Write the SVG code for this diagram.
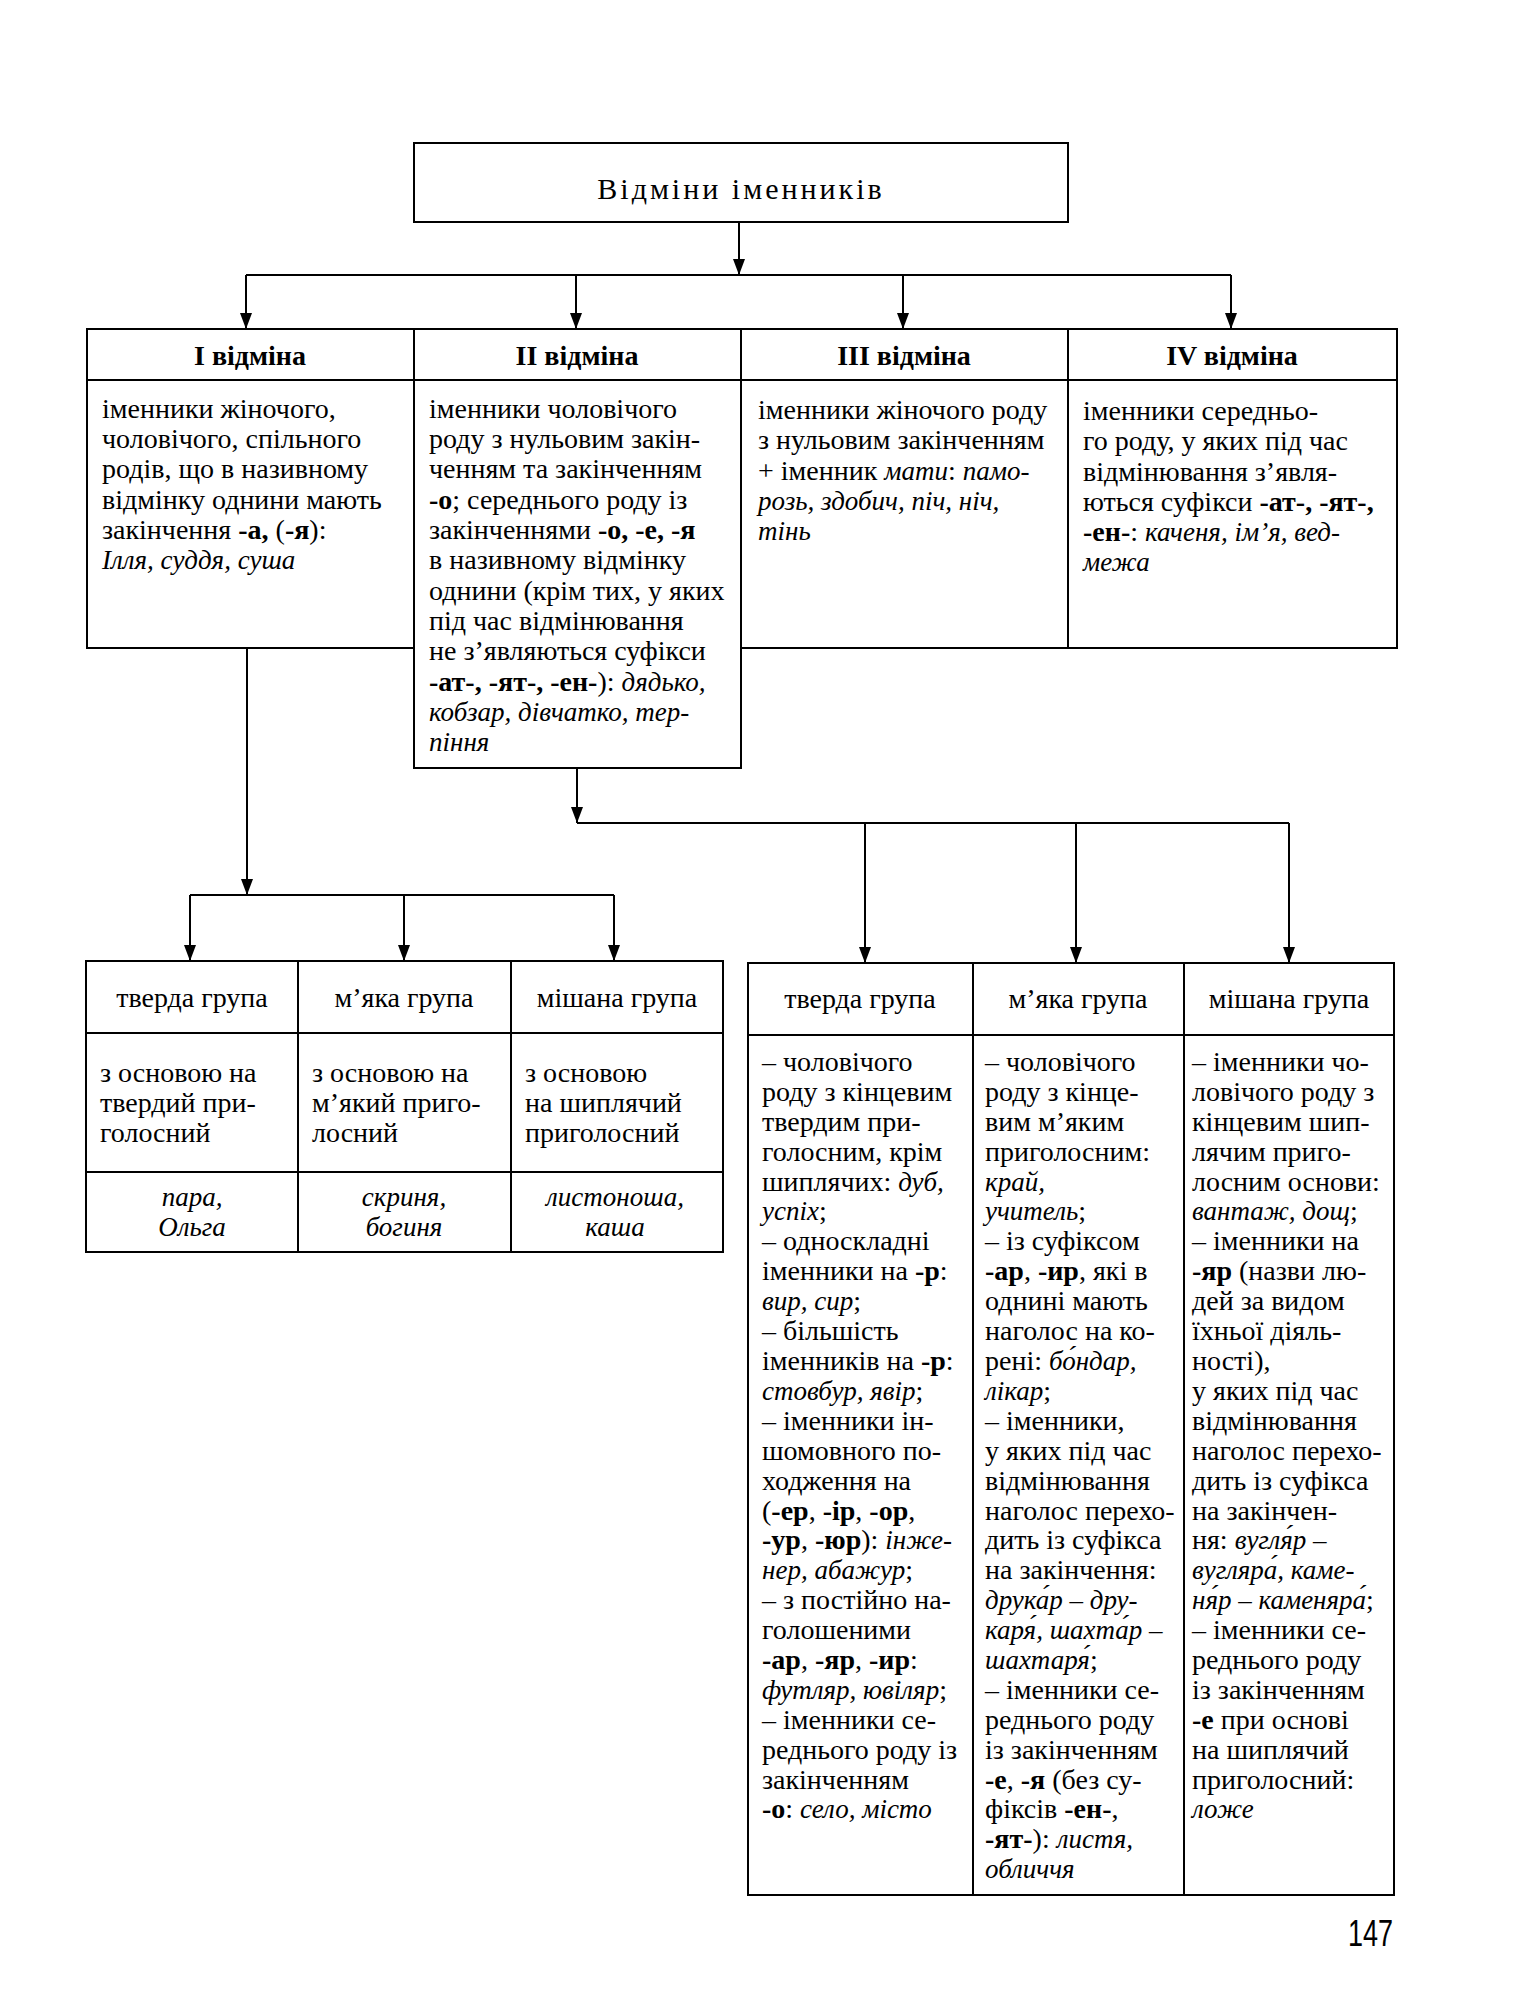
<svg xmlns="http://www.w3.org/2000/svg" width="1525" height="2000" viewBox="0 0 1525 2000">
<defs>
<style>
.bg{fill:#fff}
.box{fill:none;stroke:#000;stroke-width:2}
.ln{stroke:#000;stroke-width:2}
.con{stroke:#000;stroke-width:2;fill:none}
text{font-family:"Liberation Serif","DejaVu Serif",serif;font-size:28px;fill:#000}
.b{font-weight:bold}
.i{font-style:italic;font-size:27px}
.c{text-anchor:middle}
.title{font-size:30px;letter-spacing:3px}
.pg{font-family:"Liberation Sans","DejaVu Sans",sans-serif;font-size:36px}
</style>
<marker id="ar" markerUnits="userSpaceOnUse" markerWidth="16" markerHeight="12" refX="16" refY="6" orient="auto">
<path d="M0,0 L16,6 L0,12 z" fill="#000"/>
</marker>
</defs>
<rect class="bg" x="0" y="0" width="1525" height="2000"/>

<g id="connectors">
<line class="con" x1="739" y1="222" x2="739" y2="275" marker-end="url(#ar)"/>
<line class="con" x1="246" y1="275" x2="1231" y2="275"/>
<line class="con" x1="246" y1="275" x2="246" y2="329" marker-end="url(#ar)"/>
<line class="con" x1="576" y1="275" x2="576" y2="329" marker-end="url(#ar)"/>
<line class="con" x1="903" y1="275" x2="903" y2="329" marker-end="url(#ar)"/>
<line class="con" x1="1231" y1="275" x2="1231" y2="329" marker-end="url(#ar)"/>
<line class="con" x1="247" y1="648" x2="247" y2="895" marker-end="url(#ar)"/>
<line class="con" x1="190" y1="895" x2="614" y2="895"/>
<line class="con" x1="190" y1="895" x2="190" y2="961" marker-end="url(#ar)"/>
<line class="con" x1="404" y1="895" x2="404" y2="961" marker-end="url(#ar)"/>
<line class="con" x1="614" y1="895" x2="614" y2="961" marker-end="url(#ar)"/>
<line class="con" x1="577" y1="768" x2="577" y2="823" marker-end="url(#ar)"/>
<line class="con" x1="577" y1="823" x2="1289" y2="823"/>
<line class="con" x1="865" y1="823" x2="865" y2="963" marker-end="url(#ar)"/>
<line class="con" x1="1076" y1="823" x2="1076" y2="963" marker-end="url(#ar)"/>
<line class="con" x1="1289" y1="823" x2="1289" y2="963" marker-end="url(#ar)"/>
</g>

<g id="title">
<rect class="box" x="414" y="143" width="654" height="79"/>
<text class="title c" x="741" y="199">Відміни іменників</text>
</g>

<g id="decl1">
<rect class="box" x="87" y="329" width="327" height="319"/>
<line class="ln" x1="87" y1="380" x2="414" y2="380"/>
<text class="b c" x="250" y="365">I відміна</text>
<text x="102" y="418">іменники жіночого,</text>
<text x="102" y="448">чоловічого, спільного</text>
<text x="102" y="478">родів, що в називному</text>
<text x="102" y="509">відмінку однини мають</text>
<text x="102" y="539">закінчення <tspan class="b">-а,</tspan> (<tspan class="b">-я</tspan>):</text>
<text x="102" y="569"><tspan class="i">Ілля, суддя, суша</tspan></text>
</g>

<g id="decl2">
<rect class="box" x="414" y="329" width="327" height="439"/>
<line class="ln" x1="414" y1="380" x2="741" y2="380"/>
<text class="b c" x="577" y="365">II відміна</text>
<text x="429" y="418">іменники чоловічого</text>
<text x="429" y="448">роду з нульовим закін-</text>
<text x="429" y="478">ченням та закінченням</text>
<text x="429" y="509"><tspan class="b">-о</tspan>; середнього роду із</text>
<text x="429" y="539">закінченнями <tspan class="b">-о, -е, -я</tspan></text>
<text x="429" y="569">в називному відмінку</text>
<text x="429" y="600">однини (крім тих, у яких</text>
<text x="429" y="630">під час відмінювання</text>
<text x="429" y="660">не з’являються суфікси</text>
<text x="429" y="691"><tspan class="b">-ат-, -ят-, -ен-</tspan>): <tspan class="i">дядько,</tspan></text>
<text x="429" y="721"><tspan class="i">кобзар, дівчатко, тер-</tspan></text>
<text x="429" y="751"><tspan class="i">піння</tspan></text>
</g>

<g id="decl3">
<rect class="box" x="741" y="329" width="327" height="319"/>
<line class="ln" x1="741" y1="380" x2="1068" y2="380"/>
<text class="b c" x="904" y="365">III відміна</text>
<text x="758" y="419">іменники жіночого роду</text>
<text x="758" y="449">з нульовим закінченням</text>
<text x="758" y="480">+ іменник <tspan class="i">мати</tspan>: <tspan class="i">памо-</tspan></text>
<text x="758" y="510"><tspan class="i">розь, здобич, піч, ніч,</tspan></text>
<text x="758" y="540"><tspan class="i">тінь</tspan></text>
</g>

<g id="decl4">
<rect class="box" x="1068" y="329" width="329" height="319"/>
<line class="ln" x1="1068" y1="380" x2="1397" y2="380"/>
<text class="b c" x="1232" y="365">IV відміна</text>
<text x="1083" y="420">іменники середньо-</text>
<text x="1083" y="450">го роду, у яких під час</text>
<text x="1083" y="481">відмінювання з’явля-</text>
<text x="1083" y="511">ються суфікси <tspan class="b">-ат-, -ят-,</tspan></text>
<text x="1083" y="541"><tspan class="b">-ен-</tspan>: <tspan class="i">каченя, ім’я, вед-</tspan></text>
<text x="1083" y="571"><tspan class="i">межа</tspan></text>
</g>

<g id="g1-hard">
<rect class="box" x="86" y="961" width="212" height="291"/>
<line class="ln" x1="86" y1="1033" x2="298" y2="1033"/>
<line class="ln" x1="86" y1="1172" x2="298" y2="1172"/>
<text class="c" x="192" y="1007">тверда група</text>
<text x="100" y="1082">з основою на</text>
<text x="100" y="1112">твердий при-</text>
<text x="100" y="1142">голосний</text>
<text class="c" x="192" y="1206"><tspan class="i">пара,</tspan></text>
<text class="c" x="192" y="1236"><tspan class="i">Ольга</tspan></text>
</g>

<g id="g1-soft">
<rect class="box" x="298" y="961" width="213" height="291"/>
<line class="ln" x1="298" y1="1033" x2="511" y2="1033"/>
<line class="ln" x1="298" y1="1172" x2="511" y2="1172"/>
<text class="c" x="404" y="1007">м’яка група</text>
<text x="312" y="1082">з основою на</text>
<text x="312" y="1112">м’який приго-</text>
<text x="312" y="1142">лосний</text>
<text class="c" x="404" y="1206"><tspan class="i">скриня,</tspan></text>
<text class="c" x="404" y="1236"><tspan class="i">богиня</tspan></text>
</g>

<g id="g1-mixed">
<rect class="box" x="511" y="961" width="212" height="291"/>
<line class="ln" x1="511" y1="1033" x2="723" y2="1033"/>
<line class="ln" x1="511" y1="1172" x2="723" y2="1172"/>
<text class="c" x="617" y="1007">мішана група</text>
<text x="525" y="1082">з основою</text>
<text x="525" y="1112">на шиплячий</text>
<text x="525" y="1142">приголосний</text>
<text class="c" x="615" y="1206"><tspan class="i">листоноша,</tspan></text>
<text class="c" x="615" y="1236"><tspan class="i">каша</tspan></text>
</g>

<g id="g2-hard">
<rect class="box" x="748" y="963" width="225" height="932"/>
<line class="ln" x1="748" y1="1035" x2="973" y2="1035"/>
<text class="c" x="860" y="1008">тверда група</text>
<text x="762" y="1071">– чоловічого</text>
<text x="762" y="1101">роду з кінцевим</text>
<text x="762" y="1131">твердим при-</text>
<text x="762" y="1161">голосним, крім</text>
<text x="762" y="1191">шиплячих: <tspan class="i">дуб,</tspan></text>
<text x="762" y="1220"><tspan class="i">успіх</tspan>;</text>
<text x="762" y="1250">– односкладні</text>
<text x="762" y="1280">іменники на <tspan class="b">-р</tspan>:</text>
<text x="762" y="1310"><tspan class="i">вир, сир</tspan>;</text>
<text x="762" y="1340">– більшість</text>
<text x="762" y="1370">іменників на <tspan class="b">-р</tspan>:</text>
<text x="762" y="1400"><tspan class="i">стовбур, явір</tspan>;</text>
<text x="762" y="1430">– іменники ін-</text>
<text x="762" y="1460">шомовного по-</text>
<text x="762" y="1490">ходження на</text>
<text x="762" y="1520">(<tspan class="b">-ер</tspan>, <tspan class="b">-ір</tspan>, <tspan class="b">-ор</tspan>,</text>
<text x="762" y="1549"><tspan class="b">-ур</tspan>, <tspan class="b">-юр</tspan>): <tspan class="i">інже-</tspan></text>
<text x="762" y="1579"><tspan class="i">нер, абажур</tspan>;</text>
<text x="762" y="1609">– з постійно на-</text>
<text x="762" y="1639">голошеними</text>
<text x="762" y="1669"><tspan class="b">-ар</tspan>, <tspan class="b">-яр</tspan>, <tspan class="b">-ир</tspan>:</text>
<text x="762" y="1699"><tspan class="i">футляр, ювіляр</tspan>;</text>
<text x="762" y="1729">– іменники се-</text>
<text x="762" y="1759">реднього роду із</text>
<text x="762" y="1789">закінченням</text>
<text x="762" y="1818"><tspan class="b">-о</tspan>: <tspan class="i">село, місто</tspan></text>
</g>

<g id="g2-soft">
<rect class="box" x="973" y="963" width="211" height="932"/>
<line class="ln" x1="973" y1="1035" x2="1184" y2="1035"/>
<text class="c" x="1078" y="1008">м’яка група</text>
<text x="985" y="1071">– чоловічого</text>
<text x="985" y="1101">роду з кінце-</text>
<text x="985" y="1131">вим м’яким</text>
<text x="985" y="1161">приголосним:</text>
<text x="985" y="1191"><tspan class="i">край,</tspan></text>
<text x="985" y="1220"><tspan class="i">учитель</tspan>;</text>
<text x="985" y="1250">– із суфіксом</text>
<text x="985" y="1280"><tspan class="b">-ар</tspan>, <tspan class="b">-ир</tspan>, які в</text>
<text x="985" y="1310">однині мають</text>
<text x="985" y="1340">наголос на ко-</text>
<text x="985" y="1370">рені: <tspan class="i">бо́ндар,</tspan></text>
<text x="985" y="1400"><tspan class="i">лікар</tspan>;</text>
<text x="985" y="1430">– іменники,</text>
<text x="985" y="1460">у яких під час</text>
<text x="985" y="1490">відмінювання</text>
<text x="985" y="1520">наголос перехо-</text>
<text x="985" y="1549">дить із суфікса</text>
<text x="985" y="1579">на закінчення:</text>
<text x="985" y="1609"><tspan class="i">друка́р – дру-</tspan></text>
<text x="985" y="1639"><tspan class="i">каря́, шахта́р –</tspan></text>
<text x="985" y="1669"><tspan class="i">шахтаря́</tspan>;</text>
<text x="985" y="1699">– іменники се-</text>
<text x="985" y="1729">реднього роду</text>
<text x="985" y="1759">із закінченням</text>
<text x="985" y="1789"><tspan class="b">-е</tspan>, <tspan class="b">-я</tspan> (без су-</text>
<text x="985" y="1818">фіксів <tspan class="b">-ен-</tspan>,</text>
<text x="985" y="1848"><tspan class="b">-ят-</tspan>): <tspan class="i">листя,</tspan></text>
<text x="985" y="1878"><tspan class="i">обличчя</tspan></text>
</g>

<g id="g2-mixed">
<rect class="box" x="1184" y="963" width="210" height="932"/>
<line class="ln" x1="1184" y1="1035" x2="1394" y2="1035"/>
<text class="c" x="1289" y="1008">мішана група</text>
<text x="1192" y="1071">– іменники чо-</text>
<text x="1192" y="1101">ловічого роду з</text>
<text x="1192" y="1131">кінцевим шип-</text>
<text x="1192" y="1161">лячим приго-</text>
<text x="1192" y="1191">лосним основи:</text>
<text x="1192" y="1220"><tspan class="i">вантаж, дощ</tspan>;</text>
<text x="1192" y="1250">– іменники на</text>
<text x="1192" y="1280"><tspan class="b">-яр</tspan> (назви лю-</text>
<text x="1192" y="1310">дей за видом</text>
<text x="1192" y="1340">їхньої діяль-</text>
<text x="1192" y="1370">ності),</text>
<text x="1192" y="1400">у яких під час</text>
<text x="1192" y="1430">відмінювання</text>
<text x="1192" y="1460">наголос перехо-</text>
<text x="1192" y="1490">дить із суфікса</text>
<text x="1192" y="1520">на закінчен-</text>
<text x="1192" y="1549">ня: <tspan class="i">вугля́р –</tspan></text>
<text x="1192" y="1579"><tspan class="i">вугляра́, каме-</tspan></text>
<text x="1192" y="1609"><tspan class="i">ня́р – каменяра́</tspan>;</text>
<text x="1192" y="1639">– іменники се-</text>
<text x="1192" y="1669">реднього роду</text>
<text x="1192" y="1699">із закінченням</text>
<text x="1192" y="1729"><tspan class="b">-е</tspan> при основі</text>
<text x="1192" y="1759">на шиплячий</text>
<text x="1192" y="1789">приголосний:</text>
<text x="1192" y="1818"><tspan class="i">ложе</tspan></text>
</g>

<text class="pg" text-anchor="end" transform="translate(1393,1946) scale(0.75,1)">147</text>
</svg>
